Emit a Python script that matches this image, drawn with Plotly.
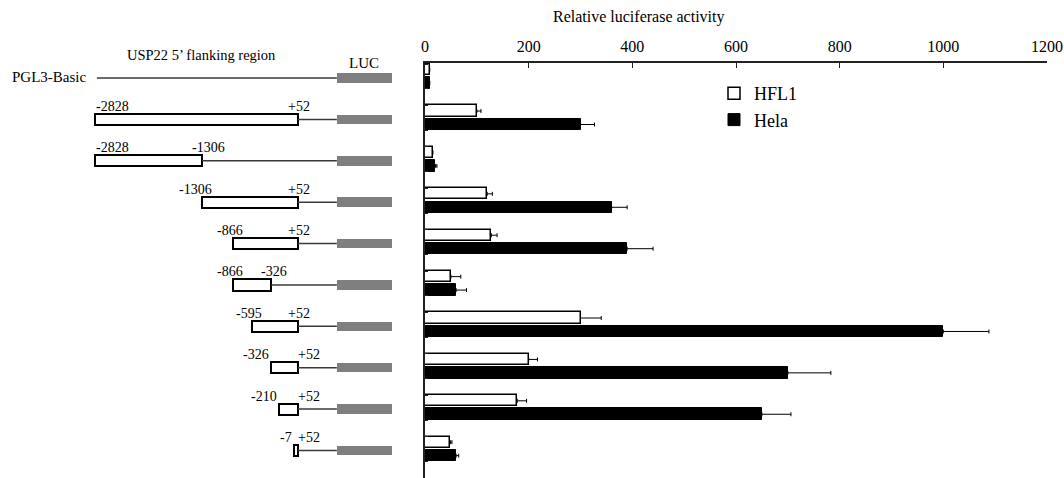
import plotly.graph_objects as go

# ---------------- data ----------------
constructs = ["PGL3-Basic", "-2828/+52", "-2828/-1306", "-1306/+52", "-866/+52",
              "-866/-326", "-595/+52", "-326/+52", "-210/+52", "-7/+52"]
starts = [None, -2828, -2828, -1306, -866, -866, -595, -326, -210, -7]
ends = [None, 52, -1306, 52, 52, -326, 52, 52, 52, 52]

hfl1 = [9, 100, 15, 120, 128, 50, 300, 200, 178, 49]
hfl1_err = [0, 8, 0, 10, 11, 19, 40, 17, 18, 3]
hela = [9, 300, 20, 360, 390, 60, 1000, 700, 650, 60]
hela_err = [0, 27, 3, 30, 50, 20, 88, 83, 56, 5]

x_ticks = [0, 200, 400, 600, 800, 1000, 1200]

# ---------------- layout constants ----------------
W, H = 1064, 478
SERIF = "Liberation Serif, Times New Roman, serif"
LUC_START, LUC_END = 606, 1386      # schematic reporter position (diagram units)
BACKBONE_START = -2800
rows = list(range(len(constructs)))

fig = go.Figure()

# main bars
fig.add_trace(go.Bar(
    name="HFL1", y=rows, x=hfl1, orientation="h", offset=-0.30, width=0.27,
    marker=dict(color="white", line=dict(color="black", width=1.5)),
    error_x=dict(type="data", array=hfl1_err, arrayminus=[0] * len(rows), symmetric=False,
                 color="black", thickness=1, width=2),
    xaxis="x", yaxis="y"))
fig.add_trace(go.Bar(
    name="Hela", y=rows, x=hela, orientation="h", offset=0.02, width=0.28,
    marker=dict(color="black", line=dict(color="black", width=1)),
    error_x=dict(type="data", array=hela_err, arrayminus=[0] * len(rows), symmetric=False,
                 color="black", thickness=1, width=2),
    xaxis="x", yaxis="y"))

# diagram: connecting lines to LUC
lx, ly = [], []
for i in rows:
    s = ends[i] if ends[i] is not None else BACKBONE_START
    lx += [s, LUC_START, None]
    ly += [i, i, None]
fig.add_trace(go.Scatter(x=lx, y=ly, mode="lines", line=dict(color="#3a3a3a", width=1.5),
                         showlegend=False, hoverinfo="skip", xaxis="x2", yaxis="y2"))

# diagram: LUC boxes
fig.add_trace(go.Bar(y=rows, x=[LUC_END - LUC_START] * len(rows), base=[LUC_START] * len(rows),
                     orientation="h", width=0.23, marker=dict(color="#7f7f7f", line=dict(width=0)),
                     showlegend=False, hoverinfo="skip", xaxis="x2", yaxis="y2"))

# diagram: construct boxes
cr = [i for i in rows if starts[i] is not None]
fig.add_trace(go.Bar(y=cr, x=[ends[i] - starts[i] for i in cr], base=[starts[i] for i in cr],
                     orientation="h", width=0.27,
                     marker=dict(color="white", line=dict(color="black", width=2)),
                     showlegend=False, hoverinfo="skip", xaxis="x2", yaxis="y2"))

PX_PER_BP = 420 / (1786 + 4175)
annotations = []
for i in cr:
    s, e = starts[i], ends[i]
    wpx = (e - s) * PX_PER_BP
    if s == -2828:
        sa, ss = "left", -1
    else:
        sa, ss = "right", (12 if wpx >= 30 else 0)
    es = -12 if wpx >= 30 else -2
    annotations.append(dict(x=s, y=i, xref="x2", yref="y2", text=f"{s}", showarrow=False,
                            xanchor=sa, yanchor="middle", xshift=ss, yshift=13,
                            font=dict(family=SERIF, size=14, color="black")))
    annotations.append(dict(x=e, y=i, xref="x2", yref="y2", text=(f"+{e}" if e > 0 else f"{e}"),
                            showarrow=False, xanchor="left", yanchor="middle", xshift=es, yshift=13,
                            font=dict(family=SERIF, size=14, color="black")))

annotations += [
    dict(x=10 / W, y=1 - 77 / H, xref="paper", yref="paper", text=constructs[0], showarrow=False,
         xanchor="left", yanchor="middle", font=dict(family=SERIF, size=15, color="black")),
    dict(x=201 / W, y=1 - 55 / H, xref="paper", yref="paper", text="USP22 5’ flanking region",
         showarrow=False, xanchor="center", yanchor="middle",
         font=dict(family=SERIF, size=14.5, color="black")),
    dict(x=364 / W, y=1 - 63 / H, xref="paper", yref="paper", text="LUC", showarrow=False,
         xanchor="center", yanchor="middle", font=dict(family=SERIF, size=15, color="black")),
    dict(x=638 / W, y=1 - 17 / H, xref="paper", yref="paper", text="Relative luciferase activity",
         showarrow=False, xanchor="center", yanchor="middle",
         font=dict(family=SERIF, size=16, color="black")),
]

ytv = []
for i in rows:
    ytv += [i - 0.30, i + 0.30]

fig.update_layout(
    width=W, height=H, margin=dict(l=0, r=0, t=0, b=0),
    paper_bgcolor="white", plot_bgcolor="rgba(0,0,0,0)",
    barmode="overlay", bargap=0,
    font=dict(family=SERIF, color="black"),
    showlegend=True,
    legend=dict(x=714 / W, y=1 - 75 / H, xanchor="left", yanchor="top",
                bgcolor="rgba(0,0,0,0)", font=dict(family=SERIF, size=18, color="black"),
                traceorder="normal"),
    xaxis=dict(domain=[425 / W, 1047 / W], range=[0, 1200], side="top", anchor="y",
               tickvals=x_ticks, ticks="inside", ticklen=5, tickwidth=1, tickcolor="#222",
               showline=True, linecolor="#222", linewidth=1.5, showgrid=False, zeroline=False,
               ticklabelstandoff=3,
               tickfont=dict(family=SERIF, size=16, color="black"), automargin=False),
    yaxis=dict(domain=[0, 1 - 63 / H], range=[9.70, -0.326], anchor="x",
               tickvals=ytv, ticks="inside", ticklen=3, tickcolor="#222", showticklabels=False,
               showline=True, linecolor="#222", linewidth=1.5, showgrid=False, zeroline=False,
               automargin=False),
    xaxis2=dict(domain=[0, 420 / W], range=[-4175, 1786], anchor="y2", visible=False),
    yaxis2=dict(domain=[0, 1 - 63 / H], range=[9.664, -0.362], anchor="x2", visible=False),
    annotations=annotations,
)

fig.write_html("out.html", config={"displayModeBar": False},
               post_script="document.body.style.margin='0';document.body.style.overflow='hidden';")
